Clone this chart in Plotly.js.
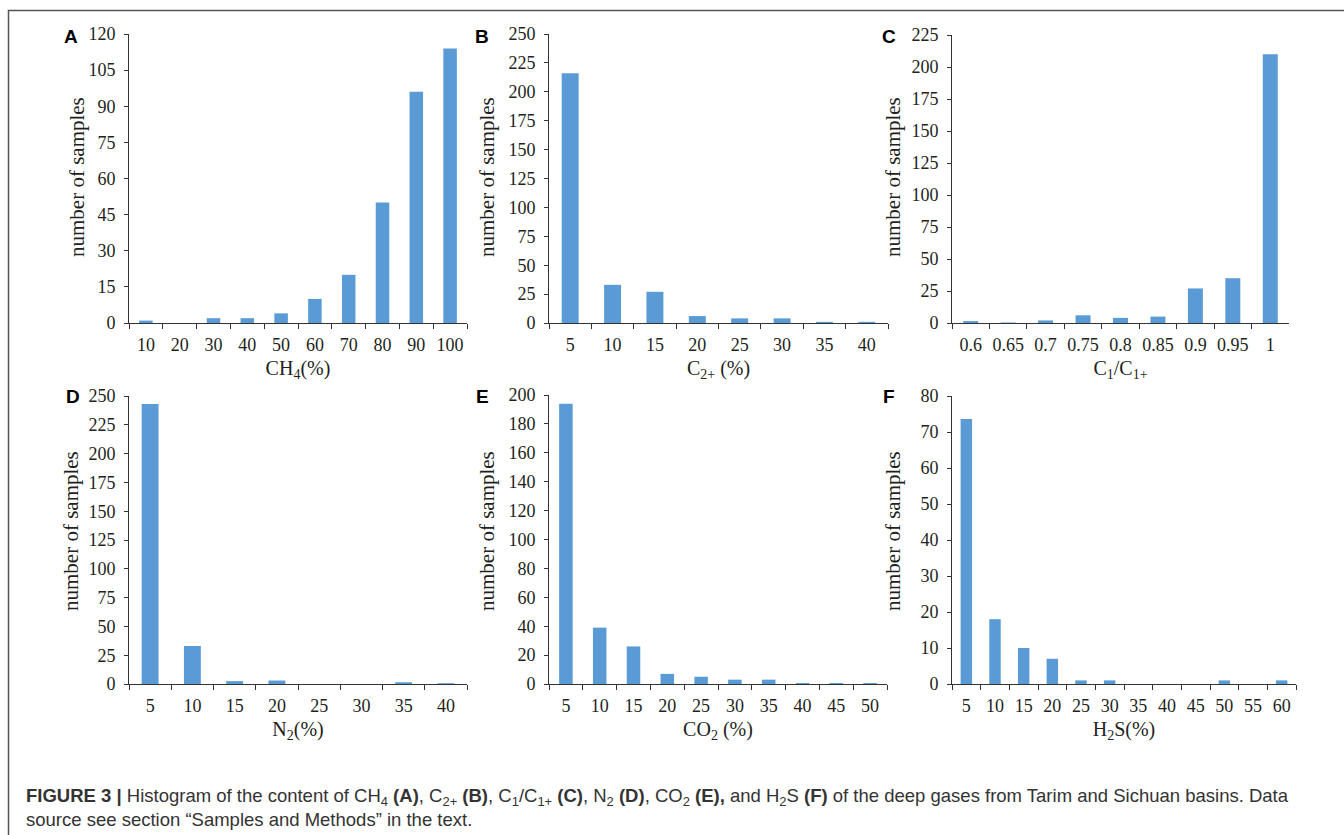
<!DOCTYPE html>
<html><head><meta charset="utf-8">
<script src="https://cdn.plot.ly/plotly-3.0.1.min.js"></script>
<style>html,body{margin:0;padding:0;background:#fff;overflow:hidden}</style>
</head><body>
<div id="chart" style="width:1344px;height:835px"></div>
<script>
// ---- data ----
const ch4Bins = ['10','20','30','40','50','60','70','80','90','100'];
const ch4Counts = [1, 0, 2, 2, 4, 10, 20, 50, 96, 114];

const c2Bins = ['5','10','15','20','25','30','35','40'];
const c2Counts = [216, 33, 27, 6, 4, 4, 1, 1];

const c1Bins = ['0.6','0.65','0.7','0.75','0.8','0.85','0.9','0.95','1'];
const c1Counts = [1.5, 0.4, 2, 6, 4, 5, 27, 35, 210];

const n2Bins = ['5','10','15','20','25','30','35','40'];
const n2Counts = [243, 33, 2.5, 3, 0, 0, 1.5, 0.7];

const co2Bins = ['5','10','15','20','25','30','35','40','45','50'];
const co2Counts = [194, 39, 26, 7, 5, 3, 3, 0.7, 0.7, 0.7];

const h2sBins = ['5','10','15','20','25','30','35','40','45','50','55','60'];
const h2sCounts = [73.6, 18, 10, 7, 1, 1, 0, 0, 0, 1, 0, 1];

const panelLetters = ['A','B','C','D','E','F'];
const xTitles = ['CH<sub>4</sub>(%)', 'C<sub>2+</sub> (%)', 'C<sub>1</sub>/C<sub>1+</sub>',
                 'N<sub>2</sub>(%)', 'CO<sub>2</sub> (%)', 'H<sub>2</sub>S(%)'];
const yTitle = 'number of samples';
const yMax = [120, 250, 225, 250, 200, 80];
const yStep = [15, 25, 25, 25, 20, 10];

// ---- layout (pixel boxes of each plot area) ----
const W = 1344, H = 835;
const boxes = [
  [129, 467, 34, 323],
  [549, 888, 34, 323],
  [952, 1289, 35, 323],
  [129, 467, 396, 684],
  [549, 887, 395, 684],
  [952, 1296, 396, 684]
];
const letterPos = [[71,37],[482,37],[889,37],[73,396],[482,396],[889,396]];
const yTitlePos = [[77,177],[487,177],[893,177],[71,531],[487,531],[893,531]];
const px = x => x / W;
const py = y => 1 - y / H;

const series = [
  [ch4Bins, ch4Counts], [c2Bins, c2Counts], [c1Bins, c1Counts],
  [n2Bins, n2Counts], [co2Bins, co2Counts], [h2sBins, h2sCounts]
];

const serif = 'Liberation Serif, Times New Roman, serif';
const txt = '#231f20';
const data = [];
const layout = {
  width: W, height: H,
  margin: {l:0, r:0, t:0, b:0},
  paper_bgcolor: '#fff', plot_bgcolor: 'rgba(0,0,0,0)',
  showlegend: false,
  bargap: 0.6,
  annotations: [],
  shapes: [
    {type:'path', xref:'paper', yref:'paper',
     path: `M ${px(8.5)} ${py(840)} L ${px(8.5)} ${py(10.5)} L ${px(1350)} ${py(10.5)}`,
     line: {color:'#555', width:1.5}}
  ]
};

series.forEach((s, i) => {
  const n = i + 1;
  const xa = n === 1 ? 'xaxis' : 'xaxis' + n;
  const ya = n === 1 ? 'yaxis' : 'yaxis' + n;
  data.push({
    type: 'bar', x: s[0], y: s[1],
    xaxis: 'x' + (n === 1 ? '' : n), yaxis: 'y' + (n === 1 ? '' : n),
    marker: {color: '#5b9bd5', line: {width: 0}},
    hoverinfo: 'x+y'
  });
  const b = boxes[i];
  layout[xa] = {
    domain: [px(b[0]), px(b[1])],
    anchor: 'y' + (n === 1 ? '' : n),
    type: 'category',
    showline: true, linecolor: '#333', linewidth: 1,
    ticks: 'outside', tickson: 'boundaries', ticklen: 5, tickcolor: '#333',
    tickangle: 0, ticklabelstandoff: 5,
    showgrid: false, zeroline: false,
    tickfont: {family: serif, size: 18, color: txt},
    title: {text: xTitles[i], font: {family: serif, size: 20, color: txt}, standoff: 7}
  };
  layout[ya] = {
    domain: [py(b[3]), py(b[2])],
    anchor: 'x' + (n === 1 ? '' : n),
    range: [0, yMax[i]], dtick: yStep[i], tick0: 0,
    showline: true, linecolor: '#333', linewidth: 1,
    ticks: 'outside', ticklen: 4, tickcolor: '#333',
    ticklabelstandoff: 5,
    showgrid: false, zeroline: false,
    tickfont: {family: serif, size: 18, color: txt}
  };
  // y-axis title, placed as rotated text next to the axis
  layout.annotations.push({
    xref: 'paper', yref: 'paper', x: px(yTitlePos[i][0]), y: py(yTitlePos[i][1]),
    text: yTitle, textangle: -90, showarrow: false,
    xanchor: 'center', yanchor: 'middle',
    font: {family: serif, size: 21, color: txt}
  });
  layout.annotations.push({
    xref: 'paper', yref: 'paper', x: px(letterPos[i][0]), y: py(letterPos[i][1]),
    text: '<b>' + panelLetters[i] + '</b>', showarrow: false,
    xanchor: 'center', yanchor: 'middle',
    font: {family: 'Liberation Sans, Arial, sans-serif', size: 19, color: '#000'}
  });
});

layout.annotations.push({
  xref: 'paper', yref: 'paper', x: px(24), y: py(783), xanchor: 'left', yanchor: 'top', align: 'left',
  showarrow: false,
  text: '<b>FIGURE 3 |</b> Histogram of the content of CH<sub>4</sub> <b>(A)</b>, C<sub>2+</sub> <b>(B)</b>, C<sub>1</sub>/C<sub>1+</sub> <b>(C)</b>, N<sub>2</sub> <b>(D)</b>, CO<sub>2</sub> <b>(E),</b> and H<sub>2</sub>S <b>(F)</b> of the deep gases from Tarim and Sichuan basins. Data<br>source see section “Samples and Methods” in the text.',
  font: {family: 'Liberation Sans, Arial, sans-serif', size: 18.5, color: '#333'}
});

Plotly.newPlot('chart', data, layout, {displayModeBar: false, staticPlot: true});
</script>
</body></html>
